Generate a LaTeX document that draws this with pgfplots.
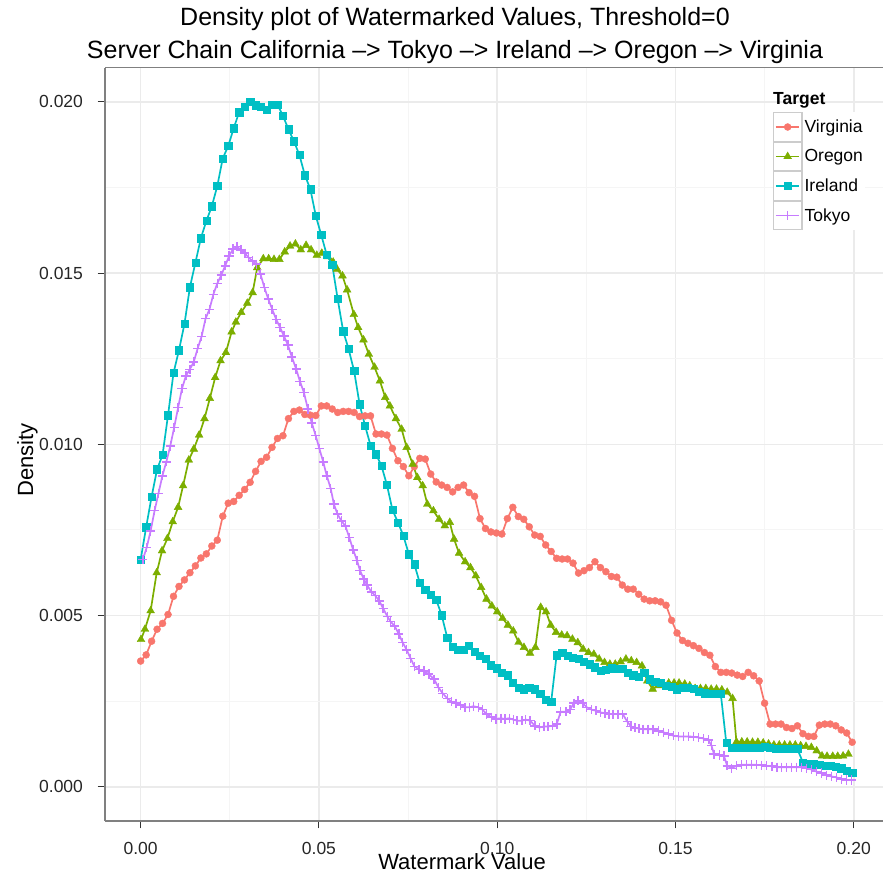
\documentclass[border=0pt]{standalone}
\usepackage{fontspec}
\setmainfont{Liberation Sans}
\usepackage{graphicx}
\usepackage{pgfplots}
\usepackage{pgfplotstable}
\pgfplotsset{compat=1.18}
\definecolor{cV}{HTML}{F8766D}
\definecolor{cO}{HTML}{7CAE00}
\definecolor{cI}{HTML}{00BFC4}
\definecolor{cT}{HTML}{C77CFF}
\definecolor{keygray}{HTML}{CCCCCC}
\definecolor{gridmaj}{HTML}{EBEBEB}
\definecolor{gridmin}{HTML}{F5F5F5}

\pgfplotstableread{
x y
0.00000 0.00367
0.00154 0.00385
0.00307 0.00425
0.00461 0.00460
0.00614 0.00477
0.00768 0.00503
0.00921 0.00556
0.01075 0.00585
0.01228 0.00604
0.01382 0.00625
0.01535 0.00645
0.01689 0.00668
0.01842 0.00680
0.01996 0.00703
0.02149 0.00720
0.02303 0.00790
0.02456 0.00828
0.02610 0.00833
0.02763 0.00851
0.02917 0.00868
0.03070 0.00889
0.03224 0.00921
0.03377 0.00950
0.03531 0.00962
0.03684 0.00991
0.03838 0.01017
0.03991 0.01025
0.04145 0.01075
0.04298 0.01096
0.04452 0.01100
0.04605 0.01087
0.04759 0.01085
0.04912 0.01084
0.05066 0.01112
0.05219 0.01112
0.05373 0.01103
0.05526 0.01093
0.05680 0.01096
0.05833 0.01096
0.05987 0.01093
0.06140 0.01081
0.06294 0.01083
0.06447 0.01083
0.06601 0.01030
0.06754 0.01030
0.06908 0.01027
0.07061 0.00988
0.07215 0.00952
0.07368 0.00935
0.07522 0.00908
0.07675 0.00935
0.07829 0.00959
0.07982 0.00957
0.08136 0.00913
0.08289 0.00890
0.08443 0.00881
0.08596 0.00874
0.08750 0.00861
0.08903 0.00874
0.09057 0.00881
0.09210 0.00859
0.09364 0.00848
0.09517 0.00783
0.09671 0.00754
0.09824 0.00744
0.09978 0.00741
0.10131 0.00738
0.10285 0.00783
0.10438 0.00816
0.10592 0.00789
0.10745 0.00781
0.10899 0.00759
0.11052 0.00735
0.11206 0.00731
0.11359 0.00706
0.11513 0.00687
0.11666 0.00667
0.11820 0.00665
0.11973 0.00665
0.12127 0.00653
0.12280 0.00624
0.12434 0.00631
0.12587 0.00640
0.12741 0.00657
0.12894 0.00640
0.13048 0.00628
0.13201 0.00614
0.13355 0.00612
0.13508 0.00589
0.13662 0.00577
0.13815 0.00577
0.13969 0.00562
0.14122 0.00548
0.14276 0.00543
0.14429 0.00543
0.14583 0.00540
0.14736 0.00530
0.14890 0.00486
0.15043 0.00449
0.15197 0.00427
0.15350 0.00419
0.15504 0.00412
0.15657 0.00404
0.15811 0.00392
0.15964 0.00384
0.16118 0.00351
0.16271 0.00334
0.16425 0.00334
0.16578 0.00332
0.16732 0.00326
0.16885 0.00322
0.17039 0.00334
0.17192 0.00324
0.17346 0.00309
0.17499 0.00244
0.17653 0.00183
0.17806 0.00183
0.17960 0.00183
0.18113 0.00173
0.18267 0.00170
0.18420 0.00178
0.18574 0.00155
0.18727 0.00147
0.18881 0.00147
0.19034 0.00180
0.19188 0.00183
0.19341 0.00183
0.19495 0.00178
0.19648 0.00166
0.19802 0.00157
0.19955 0.00130
}\virginia

\pgfplotstableread{
x y
0.0001 0.00430
0.0012 0.00460
0.0028 0.00514
0.0045 0.00625
0.0060 0.00689
0.0075 0.00725
0.0090 0.00774
0.0105 0.00816
0.0119 0.00879
0.0135 0.00954
0.0149 0.00986
0.0164 0.01027
0.0179 0.01075
0.0194 0.01134
0.0209 0.01195
0.0224 0.01244
0.0239 0.01268
0.0255 0.01328
0.0267 0.01357
0.0282 0.01385
0.0299 0.01412
0.0314 0.01443
0.0327 0.01516
0.0344 0.01542
0.0359 0.01542
0.0374 0.01540
0.0389 0.01540
0.0404 0.01562
0.0419 0.01579
0.0434 0.01585
0.0449 0.01568
0.0464 0.01581
0.0478 0.01568
0.0494 0.01552
0.0508 0.01558
0.0525 0.01548
0.0540 0.01532
0.0551 0.01511
0.0566 0.01492
0.0579 0.01451
0.0598 0.01379
0.0610 0.01341
0.0625 0.01305
0.0640 0.01263
0.0656 0.01225
0.0671 0.01185
0.0686 0.01137
0.0699 0.01112
0.0716 0.01075
0.0732 0.01044
0.0746 0.00991
0.0763 0.00942
0.0776 0.00903
0.0791 0.00879
0.0804 0.00825
0.0821 0.00806
0.0837 0.00781
0.0853 0.00762
0.0867 0.00772
0.0879 0.00723
0.0893 0.00682
0.0910 0.00657
0.0925 0.00640
0.0940 0.00616
0.0955 0.00582
0.0970 0.00548
0.0985 0.00528
0.1000 0.00511
0.1015 0.00492
0.1030 0.00472
0.1045 0.00455
0.1060 0.00422
0.1075 0.00407
0.1092 0.00390
0.1107 0.00407
0.1122 0.00524
0.1137 0.00511
0.1150 0.00472
0.1165 0.00451
0.1181 0.00443
0.1196 0.00441
0.1211 0.00431
0.1226 0.00421
0.1241 0.00402
0.1256 0.00392
0.1271 0.00387
0.1286 0.00373
0.1301 0.00363
0.1316 0.00358
0.1331 0.00358
0.1346 0.00365
0.1361 0.00373
0.1376 0.00368
0.1391 0.00363
0.1406 0.00353
0.1421 0.00309
0.1436 0.00285
0.1451 0.00295
0.1466 0.00300
0.1481 0.00303
0.1496 0.00303
0.1510 0.00303
0.1526 0.00300
0.1540 0.00295
0.1555 0.00287
0.1570 0.00287
0.1585 0.00287
0.1600 0.00285
0.1615 0.00285
0.1630 0.00283
0.1645 0.00276
0.1660 0.00258
0.1671 0.00131
0.1686 0.00131
0.1701 0.00131
0.1716 0.00130
0.1731 0.00130
0.1746 0.00128
0.1761 0.00125
0.1776 0.00122
0.1791 0.00122
0.1806 0.00122
0.1821 0.00122
0.1836 0.00122
0.1851 0.00120
0.1866 0.00118
0.1881 0.00115
0.1896 0.00105
0.1911 0.00090
0.1925 0.00089
0.1941 0.00089
0.1955 0.00089
0.1970 0.00090
0.1985 0.00095
}\oregon

\pgfplotstableread{
x y
0.00000 0.00663
0.00154 0.00758
0.00307 0.00847
0.00461 0.00927
0.00614 0.00969
0.00768 0.01085
0.00921 0.01208
0.01075 0.01275
0.01228 0.01351
0.01382 0.01459
0.01535 0.01530
0.01689 0.01602
0.01842 0.01652
0.01996 0.01695
0.02149 0.01754
0.02303 0.01835
0.02456 0.01871
0.02610 0.01923
0.02763 0.01970
0.02917 0.01986
0.03070 0.02001
0.03224 0.01990
0.03377 0.01986
0.03531 0.01978
0.03684 0.01992
0.03838 0.01992
0.03991 0.01959
0.04145 0.01920
0.04298 0.01885
0.04452 0.01845
0.04605 0.01786
0.04759 0.01745
0.04912 0.01667
0.05066 0.01611
0.05219 0.01553
0.05373 0.01524
0.05526 0.01424
0.05680 0.01330
0.05833 0.01278
0.05987 0.01214
0.06140 0.01117
0.06294 0.01054
0.06447 0.00997
0.06601 0.00971
0.06754 0.00937
0.06908 0.00881
0.07061 0.00809
0.07215 0.00772
0.07368 0.00733
0.07522 0.00679
0.07675 0.00650
0.07829 0.00595
0.07982 0.00575
0.08136 0.00560
0.08289 0.00546
0.08443 0.00501
0.08596 0.00436
0.08750 0.00410
0.08903 0.00400
0.09057 0.00400
0.09210 0.00412
0.09364 0.00394
0.09517 0.00382
0.09671 0.00373
0.09824 0.00355
0.09978 0.00346
0.10131 0.00334
0.10285 0.00326
0.10438 0.00303
0.10592 0.00290
0.10745 0.00285
0.10899 0.00290
0.11052 0.00285
0.11206 0.00271
0.11359 0.00254
0.11513 0.00248
0.11666 0.00384
0.11820 0.00392
0.11973 0.00382
0.12127 0.00378
0.12280 0.00373
0.12434 0.00365
0.12587 0.00358
0.12741 0.00349
0.12894 0.00339
0.13048 0.00342
0.13201 0.00346
0.13355 0.00344
0.13508 0.00344
0.13662 0.00334
0.13815 0.00326
0.13969 0.00322
0.14122 0.00334
0.14276 0.00314
0.14429 0.00307
0.14583 0.00303
0.14736 0.00295
0.14890 0.00293
0.15043 0.00285
0.15197 0.00289
0.15350 0.00289
0.15504 0.00287
0.15657 0.00277
0.15811 0.00273
0.15964 0.00271
0.16118 0.00271
0.16271 0.00271
0.16425 0.00128
0.16578 0.00115
0.16732 0.00115
0.16885 0.00115
0.17039 0.00115
0.17192 0.00114
0.17346 0.00115
0.17499 0.00117
0.17653 0.00113
0.17806 0.00112
0.17960 0.00110
0.18113 0.00110
0.18267 0.00110
0.18420 0.00110
0.18574 0.00071
0.18727 0.00066
0.18881 0.00066
0.19034 0.00064
0.19188 0.00062
0.19341 0.00061
0.19495 0.00058
0.19648 0.00054
0.19802 0.00047
0.19955 0.00042
}\ireland

\pgfplotstableread{
x y
0.0006 0.00663
0.0017 0.00699
0.0028 0.00747
0.0039 0.00806
0.0050 0.00857
0.0061 0.00908
0.0072 0.00949
0.0083 0.00995
0.0094 0.01049
0.0105 0.01107
0.0116 0.01163
0.0127 0.01200
0.0138 0.01219
0.0149 0.01241
0.0160 0.01280
0.0171 0.01315
0.0182 0.01367
0.0193 0.01394
0.0204 0.01438
0.0215 0.01470
0.0226 0.01494
0.0237 0.01521
0.0248 0.01550
0.0259 0.01570
0.0270 0.01577
0.0281 0.01568
0.0292 0.01558
0.0303 0.01545
0.0314 0.01535
0.0325 0.01526
0.0336 0.01497
0.0347 0.01458
0.0358 0.01424
0.0369 0.01394
0.0380 0.01365
0.0391 0.01341
0.0402 0.01316
0.0413 0.01290
0.0424 0.01255
0.0436 0.01220
0.0447 0.01183
0.0458 0.01151
0.0469 0.01103
0.0480 0.01062
0.0491 0.01025
0.0501 0.00988
0.0512 0.00949
0.0522 0.00908
0.0533 0.00871
0.0542 0.00825
0.0552 0.00796
0.0563 0.00776
0.0574 0.00762
0.0585 0.00728
0.0596 0.00692
0.0607 0.00660
0.0615 0.00632
0.0626 0.00606
0.0635 0.00589
0.0647 0.00569
0.0658 0.00558
0.0669 0.00543
0.0680 0.00521
0.0692 0.00497
0.0701 0.00482
0.0712 0.00470
0.0724 0.00446
0.0735 0.00421
0.0746 0.00400
0.0757 0.00375
0.0768 0.00351
0.0781 0.00342
0.0794 0.00338
0.0808 0.00329
0.0823 0.00314
0.0835 0.00290
0.0847 0.00273
0.0860 0.00258
0.0872 0.00248
0.0884 0.00244
0.0897 0.00238
0.0909 0.00232
0.0922 0.00232
0.0933 0.00235
0.0947 0.00232
0.0959 0.00225
0.0970 0.00212
0.0984 0.00203
0.0996 0.00198
0.1010 0.00200
0.1022 0.00198
0.1034 0.00200
0.1045 0.00196
0.1056 0.00193
0.1069 0.00193
0.1080 0.00196
0.1092 0.00193
0.1106 0.00178
0.1118 0.00173
0.1131 0.00176
0.1143 0.00176
0.1155 0.00178
0.1167 0.00183
0.1178 0.00219
0.1193 0.00219
0.1204 0.00225
0.1215 0.00244
0.1227 0.00251
0.1240 0.00244
0.1251 0.00232
0.1265 0.00225
0.1277 0.00222
0.1290 0.00217
0.1302 0.00215
0.1314 0.00212
0.1325 0.00212
0.1339 0.00212
0.1352 0.00212
0.1365 0.00190
0.1375 0.00176
0.1386 0.00172
0.1397 0.00170
0.1409 0.00168
0.1423 0.00168
0.1437 0.00168
0.1452 0.00163
0.1466 0.00159
0.1480 0.00154
0.1494 0.00149
0.1508 0.00147
0.1522 0.00147
0.1536 0.00147
0.1550 0.00146
0.1564 0.00144
0.1578 0.00141
0.1592 0.00137
0.1601 0.00120
0.1608 0.00095
0.1623 0.00093
0.1636 0.00090
0.1645 0.00061
0.1657 0.00054
0.1671 0.00061
0.1685 0.00064
0.1699 0.00064
0.1713 0.00064
0.1727 0.00064
0.1741 0.00063
0.1755 0.00061
0.1770 0.00060
0.1784 0.00057
0.1798 0.00057
0.1812 0.00057
0.1826 0.00057
0.1840 0.00057
0.1854 0.00057
0.1868 0.00054
0.1882 0.00050
0.1896 0.00044
0.1910 0.00040
0.1924 0.00034
0.1938 0.00030
0.1952 0.00027
0.1966 0.00022
0.1980 0.00020
0.1994 0.00020
}\tokyo

\begin{document}
\begin{tikzpicture}
\begin{axis}[
  at={(105pt,56pt)}, anchor=south west,
  width=778pt, height=753.4pt, scale only axis,
  xmin=-0.01, xmax=0.2082, ymin=-0.001, ymax=0.021,
  axis x line*=box, axis y line*=left,
  xtick={0,0.05,0.1,0.15,0.2}, xticklabels={0.00,0.05,0.10,0.15,0.20},
  ytick={0,0.005,0.01,0.015,0.02}, yticklabels={0.000,0.005,0.010,0.015,0.020},
  minor xtick={0.025,0.075,0.125,0.175},
  minor ytick={0.0025,0.0075,0.0125,0.0175},
  scaled x ticks=false, scaled y ticks=false,
  grid=both,
  major grid style={draw=gridmaj, line width=1.5pt},
  minor grid style={draw=gridmin, line width=0.9pt},
  axis line style={draw=black!50, line width=1.1pt},
  tick align=outside, xtick pos=left, ytick pos=left,
  major tick length=7.5pt, minor tick length=0pt,
  tick style={draw=black!80, line width=1pt},
  ticklabel style={font=\fontsize{17.5}{17.5}\selectfont, text=black!85},
  xticklabel style={yshift=-10pt},
  yticklabel style={xshift=-11pt},
  legend style={at={(axis description cs:0.8583,0.9407)}, anchor=north west,
    draw=none, fill=white, inner sep=0pt, outer sep=0pt, row sep=0pt,
    font=\fontsize{17.5}{17.5}\selectfont,
    /tikz/every even column/.append style={column sep=6pt}},
  legend cell align=left,
  legend image code/.code={%
    \draw[draw=keygray, line width=1.2pt, fill=white] (0pt,-14.15pt) rectangle (28.6pt,14.15pt);
    \draw[#1, sharp plot, mark repeat=2, mark phase=2] plot coordinates {(2.5pt,0pt) (14.3pt,0pt) (26.1pt,0pt)};
  },
]
\addplot[cV, line width=1.7pt, forget plot] table {\virginia};
\addplot[cO, line width=1.7pt, forget plot] table {\oregon};
\addplot[cI, line width=1.7pt, forget plot] table {\ireland};
\addplot[cT, line width=1.7pt, forget plot] table {\tokyo};
\addplot[cV, line width=1.7pt, only marks, mark=*, mark size=3.5pt, mark options={line width=0.4pt, fill=cV, draw=cV}] table {\virginia};
\addlegendentry{Virginia}
\addplot[cO, line width=1.7pt, only marks, mark=triangle*, mark size=4.5pt, mark options={line width=0.4pt, fill=cO, draw=cO}] table {\oregon};
\addlegendentry{Oregon}
\addplot[cI, line width=1.7pt, only marks, mark=square*, mark size=3.6pt, mark options={line width=0.4pt, fill=cI, draw=cI}] table {\ireland};
\addlegendentry{Ireland}
\addplot[cT, line width=1.7pt, only marks, mark=+, mark size=4.6pt, mark options={line width=1.5pt, draw=cT}] table {\tokyo};
\addlegendentry{Tokyo}
\end{axis}
\node[anchor=base west, inner sep=0pt, font=\fontsize{17.5}{17.5}\selectfont\bfseries] at (773pt,772pt) {Target};
\node[anchor=base, inner sep=0pt, font=\fontsize{25}{25}\selectfont] at (455pt,851pt) {Density plot of Watermarked Values, Threshold=0};
\node[anchor=base, inner sep=0pt, font=\fontsize{25}{25}\selectfont] at (455pt,818.7pt) {Server Chain California --> Tokyo --> Ireland --> Oregon --> Virginia};
\node[anchor=base, inner sep=0pt, font=\fontsize{22}{22}\selectfont] at (462pt,7pt) {Watermark Value};
\node[anchor=base, rotate=90, inner sep=0pt, font=\fontsize{22}{22}\selectfont] at (33pt,417pt) {Density};
\pgfresetboundingbox
\path[use as bounding box] (0pt,0pt) rectangle (883pt,877pt);
\end{tikzpicture}
\end{document}
